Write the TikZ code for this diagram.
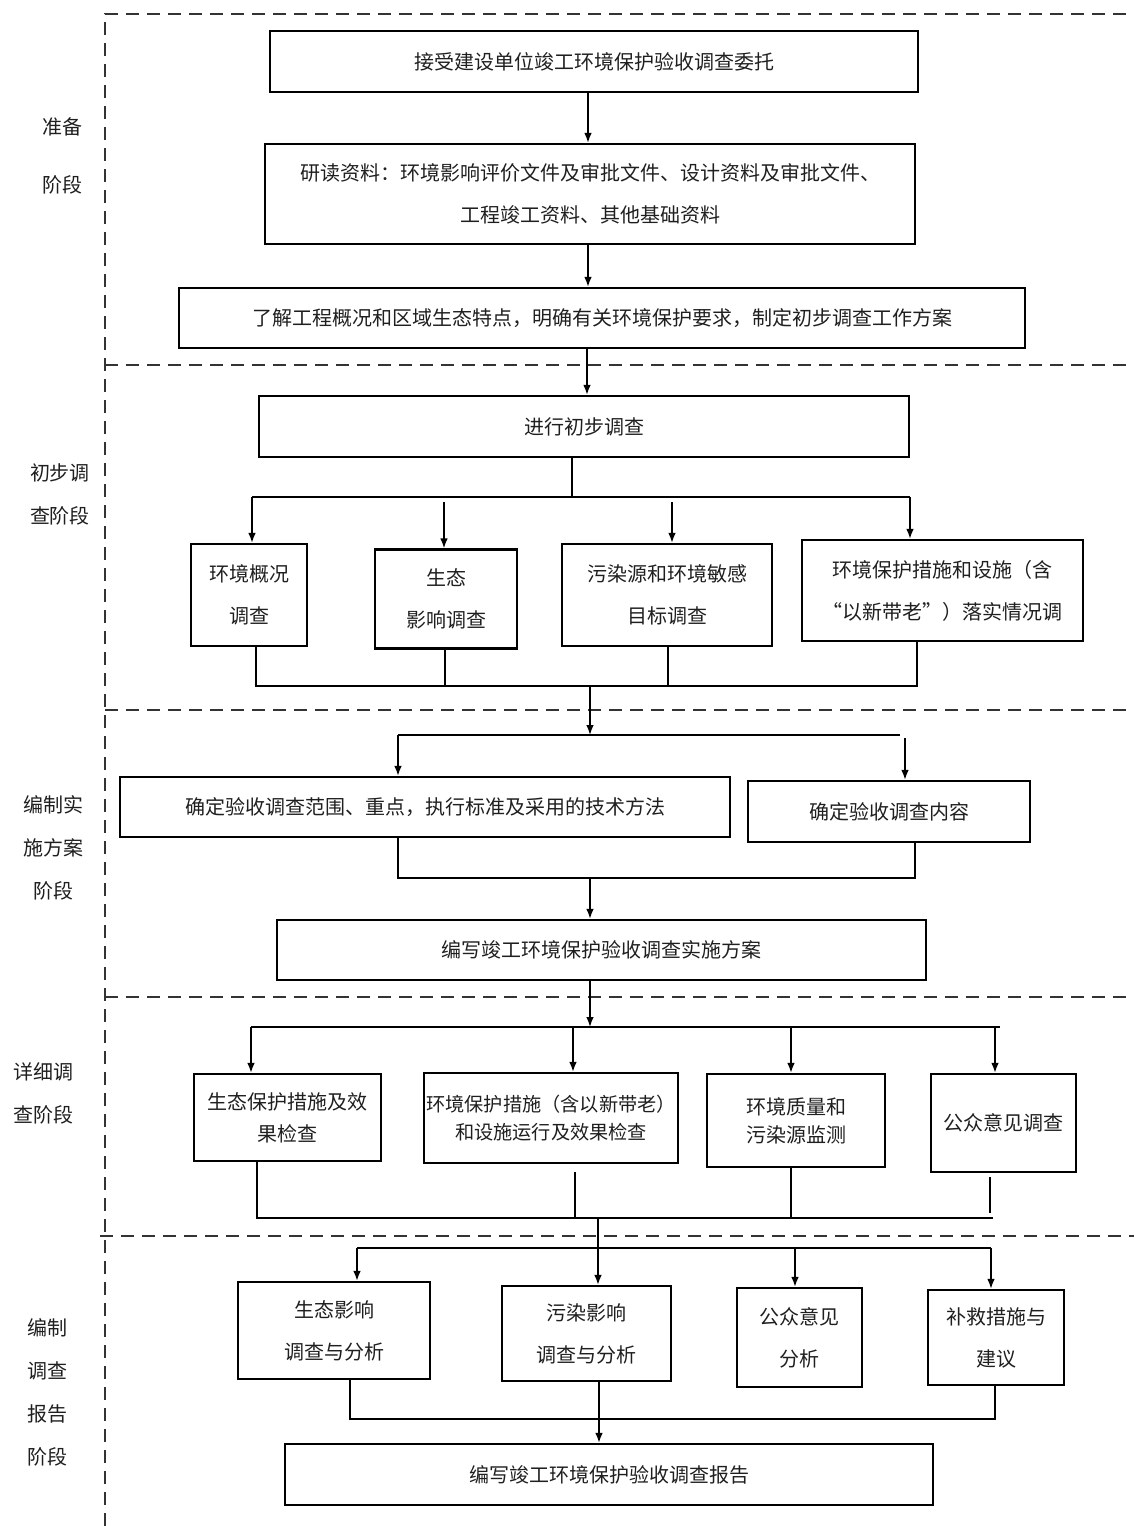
\documentclass[tikz,border=0pt]{standalone}
\usepackage{fontspec}
\setmainfont{Noto Sans CJK SC}
\usetikzlibrary{arrows.meta}
\tikzset{
  box/.style={draw=black, line width=1.1pt, inner sep=0pt, align=center, text=black!88,
              font=\fontsize{10pt}{21pt}\selectfont},
  lbl/.style={inner sep=0pt, align=center, text=black!88, font=\fontsize{10pt}{21.5pt}\selectfont},
  conn/.style={draw=black, line width=0.8pt},
  arr/.style={conn, -{Latex[length=5pt,width=3.8pt]}},
  sepline/.style={draw=black!80, line width=1pt, dash pattern=on 6.5pt off 4pt}
}
\begin{document}
\begin{tikzpicture}[x=0.5pt,y=-0.5pt]
\useasboundingbox (0,0) rectangle (1134,1526);

% dashed stage frame
\draw[sepline] (105,1526) -- (105,14) -- (1134,14);
\draw[sepline] (105,365) -- (1134,365);
\draw[sepline] (105,710) -- (1134,710);
\draw[sepline] (105,997) -- (1134,997);
\draw[sepline] (100,1236) -- (1134,1236);

% stage labels
\node[lbl, font=\fontsize{10pt}{29pt}\selectfont] (L1) at (62,156) {准备\\阶段};
\node[lbl] (L2) at (60,494.5) {初步调\\查阶段};
\node[lbl] (L3) at (54,847.5) {编制实\\施方案\\阶段};
\node[lbl] (L4) at (43,1093.5) {详细调\\查阶段};
\node[lbl] (L5) at (47,1392.5) {编制\\调查\\报告\\阶段};

% stage 1
\node[box, minimum width=324pt, minimum height=30.5pt] (b1) at (594,61.5) {接受建设单位竣工环境保护验收调查委托};
\node[box, minimum width=325pt, minimum height=50pt] (b2) at (590,194) {研读资料：环境影响评价文件及审批文件、设计资料及审批文件、\\工程竣工资料、其他基础资料};
\node[box, minimum width=423pt, minimum height=30pt] (b3) at (602,318) {了解工程概况和区域生态特点，明确有关环境保护要求，制定初步调查工作方案};

% stage 2
\node[box, minimum width=325pt, minimum height=30.5pt] (b4) at (584,426.5) {进行初步调查};
\node[box, minimum width=58pt, minimum height=51pt] (c1) at (249,595) {环境概况\\调查};
\node[box, minimum width=71pt, minimum height=49.5pt] (c2) at (446,599) {生态\\影响调查};
\node[box, minimum width=105pt, minimum height=51pt] (c3) at (667,595) {污染源和环境敏感\\目标调查};
\node[box, minimum width=140.5pt, minimum height=50.5pt] (c4) at (942.5,590.5) {环境保护措施和设施（含\\“以新带老”）落实情况调};

% stage 3
\node[box, minimum width=305pt, minimum height=30pt] (d1) at (425,807) {确定验收调查范围、重点，执行标准及采用的技术方法};
\node[box, minimum width=141pt, minimum height=30.5pt] (d2) at (889,811.5) {确定验收调查内容};
\node[box, minimum width=324.5pt, minimum height=30pt] (d3) at (601.5,950) {编写竣工环境保护验收调查实施方案};

% stage 4
\node[box, minimum width=93.5pt, minimum height=43.5pt, font=\fontsize{10pt}{16pt}\selectfont] (e1) at (287.5,1117.5) {生态保护措施及效\\果检查};
\node[box, minimum width=127pt, minimum height=45pt, font=\fontsize{9.6pt}{14pt}\selectfont] (e2) at (551,1118) {环境保护措施（含以新带老）\\和设施运行及效果检查};
\node[box, minimum width=89pt, minimum height=46.5pt, font=\fontsize{10pt}{14pt}\selectfont] (e3) at (796,1120.5) {环境质量和\\污染源监测};
\node[box, minimum width=72.5pt, minimum height=49pt] (e4) at (1003.5,1123) {公众意见调查};

% stage 5
\node[box, minimum width=96pt, minimum height=48.5pt] (f1) at (334,1330.5) {生态影响\\调查与分析};
\node[box, minimum width=84.5pt, minimum height=47.5pt] (f2) at (586.5,1333.5) {污染影响\\调查与分析};
\node[box, minimum width=62.5pt, minimum height=49.5pt] (f3) at (799.5,1337.5) {公众意见\\分析};
\node[box, minimum width=68pt, minimum height=47.5pt] (f4) at (996,1337.5) {补救措施与\\建议};
\node[box, minimum width=324pt, minimum height=30.5pt] (f5) at (609,1474.5) {编写竣工环境保护验收调查报告};

% junction coordinates
\coordinate (ka) at (588,0);
\coordinate (kb) at (587,0);
\coordinate (j2) at (572,497);
\coordinate (bus1L) at (252,497);
\coordinate (bus1R) at (910,497);
\coordinate (a2) at (444,502);
\coordinate (a3) at (672,502);
\coordinate (bus2L) at (256,686);
\coordinate (bus2R) at (917,686);
\coordinate (p2) at (445,686);
\coordinate (p3) at (668,686);
\coordinate (m2) at (590,686);
\coordinate (t3) at (590,735);
\coordinate (bus3L) at (398,735);
\coordinate (bus3R) at (900,735);
\coordinate (q3) at (905,738);
\coordinate (bus4L) at (398,878);
\coordinate (bus4R) at (915,878);
\coordinate (m4) at (590,878);
\coordinate (t4) at (590,1027);
\coordinate (bus5L) at (251,1027);
\coordinate (bus5R) at (1000,1027);
\coordinate (r2) at (573,1027);
\coordinate (r3) at (791,1027);
\coordinate (r4) at (995,1027);
\coordinate (bus6L) at (257,1218);
\coordinate (bus6R) at (993,1218);
\coordinate (s2a) at (575,1172);
\coordinate (s2b) at (575,1218);
\coordinate (s3) at (791,1218);
\coordinate (s4a) at (990,1177);
\coordinate (s4b) at (990,1213);
\coordinate (m6) at (598,1218);
\coordinate (bus7L) at (357,1248);
\coordinate (bus7R) at (991,1248);
\coordinate (u3) at (795,1248);
\coordinate (bus8L) at (350,1419);
\coordinate (bus8R) at (995,1419);
\coordinate (w) at (599,0);

% stage 1 connectors
\draw[arr] (b1.south -| ka) -- (b2.north -| ka);
\draw[arr] (b2.south -| ka) -- (b3.north -| ka);
\draw[arr] (b3.south -| kb) -- (b4.north -| kb);

% stage 2 connectors
\draw[conn] (b4.south -| j2) -- (j2);
\draw[conn] (bus1L) -- (bus1R);
\draw[arr] (bus1L) -- (c1.north -| bus1L);
\draw[arr] (a2) -- (c2.north -| a2);
\draw[arr] (a3) -- (c3.north -| a3);
\draw[arr] (bus1R) -- (c4.north -| bus1R);
\draw[conn] (c1.south -| bus2L) -- (bus2L) -- (bus2R) -- (c4.south -| bus2R);
\draw[conn] (c2.south -| p2) -- (p2);
\draw[conn] (c3.south -| p3) -- (p3);

% stage 3 connectors
\draw[arr] (m2) -- (t3);
\draw[conn] (bus3L) -- (bus3R);
\draw[arr] (bus3L) -- (d1.north -| bus3L);
\draw[arr] (q3) -- (d2.north -| q3);
\draw[conn] (d1.south -| bus4L) -- (bus4L) -- (bus4R) -- (d2.south -| bus4R);
\draw[arr] (m4) -- (d3.north -| m4);

% stage 4 connectors
\draw[arr] (d3.south -| t4) -- (t4);
\draw[conn] (bus5L) -- (bus5R);
\draw[arr] (bus5L) -- (e1.north -| bus5L);
\draw[arr] (r2) -- (e2.north -| r2);
\draw[arr] (r3) -- (e3.north -| r3);
\draw[arr] (r4) -- (e4.north -| r4);
\draw[conn] (e1.south -| bus6L) -- (bus6L) -- (bus6R);
\draw[conn] (s2a) -- (s2b);
\draw[conn] (e3.south -| s3) -- (s3);
\draw[conn] (s4a) -- (s4b);

% stage 5 connectors
\draw[arr] (m6) -- (f2.north -| m6);
\draw[conn] (bus7L) -- (bus7R);
\draw[arr] (bus7L) -- (f1.north -| bus7L);
\draw[arr] (u3) -- (f3.north -| u3);
\draw[arr] (bus7R) -- (f4.north -| bus7R);
\draw[conn] (f1.south -| bus8L) -- (bus8L) -- (bus8R) -- (f4.south -| bus8R);
\draw[arr] (f2.south -| w) -- (f5.north -| w);
\end{tikzpicture}
\end{document}
